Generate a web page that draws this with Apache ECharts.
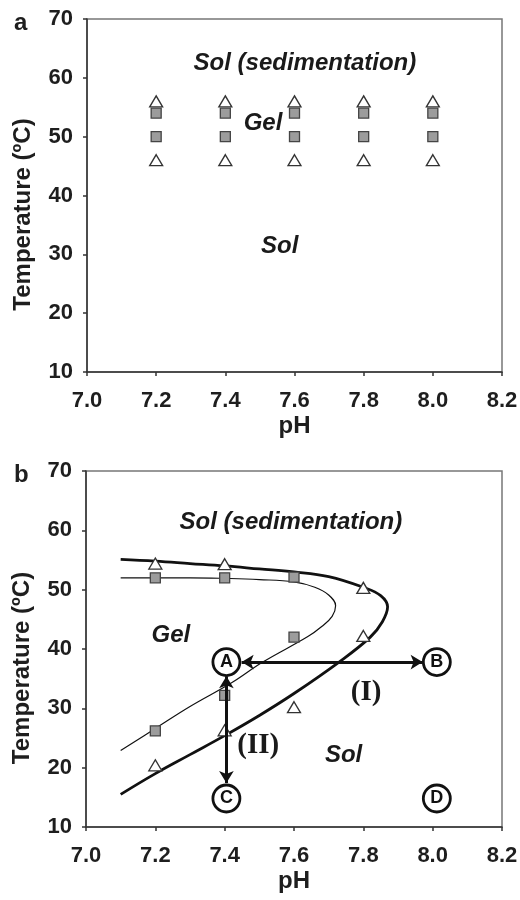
<!DOCTYPE html>
<html>
<head>
<meta charset="utf-8">
<script src="https://cdn.jsdelivr.net/npm/echarts@6/dist/echarts.min.js"></script>
<style>
  html, body { margin: 0; padding: 0; background: #fff; }
  #chart { width: 520px; height: 900px; }
</style>
</head>
<body>
<div id="chart"></div>
<script>
// panel a: pH screening, same set of points at every pH
var aPh = [7.2, 7.4, 7.6, 7.8, 8.0];
var aTriUpper = [56, 56, 56, 56, 56];
var aSqUpper = [54, 54, 54, 54, 54];
var aSqLower = [50, 50, 50, 50, 50];
var aTriLower = [46, 46, 46, 46, 46];

// panel b: measured points
var bTriPh = [7.2, 7.4, 7.8, 7.8, 7.6, 7.4, 7.2];
var bTriT = [54.4, 54.3, 50.3, 42.2, 30.2, 26.3, 20.4];
var bSqPh = [7.2, 7.4, 7.6, 7.6, 7.4, 7.2];
var bSqT = [52.0, 52.0, 52.1, 42.0, 32.2, 26.2];

// panel b: fitted boundaries
var thickPh = [7.10, 7.2, 7.3, 7.4, 7.5, 7.6, 7.7, 7.8, 7.85, 7.87, 7.855, 7.82, 7.73, 7.6, 7.5, 7.4, 7.3, 7.2, 7.10];
var thickT = [55.1, 54.8, 54.4, 54.0, 53.5, 53.0, 52.2, 50.4, 49.0, 47.1, 44.6, 42.0, 37.8, 32.5, 28.8, 25.4, 22.2, 19.0, 15.5];
var thinPh = [7.10, 7.2, 7.3, 7.4, 7.5, 7.6, 7.66, 7.70, 7.72, 7.71, 7.68, 7.64, 7.51, 7.42, 7.3, 7.2, 7.10];
var thinT = [52.0, 52.0, 52.0, 51.9, 51.7, 51.3, 50.4, 49.1, 47.3, 45.5, 43.8, 42.1, 37.8, 34.3, 30.3, 26.6, 22.9];

// panel b: states A-D
var stateNames = ['A', 'B', 'C', 'D'];
var statePh = [7.405, 8.012, 7.405, 8.012];
var stateT = [37.8, 37.8, 14.8, 14.8];

var phMin = 7.0, phMax = 8.2, phStep = 0.2;
var tMin = 10, tMax = 70, tStep = 10;

var SANS = '"Liberation Sans", Arial, sans-serif';
var SERIF = '"Liberation Serif", "Times New Roman", serif';

function zip(xs, ys) {
    var out = [];
    for (var i = 0; i < xs.length; i++) out.push([xs[i], ys[i]]);
    return out;
}

var myChart = echarts.init(document.getElementById('chart'));

function xAxisFor(idx) {
    return {
        gridIndex: idx, type: 'value', min: phMin, max: phMax, interval: phStep,
        name: 'pH', nameLocation: 'middle', nameGap: 42,
        nameTextStyle: { fontFamily: SANS, fontWeight: 'bold', fontSize: 24, color: '#1e1e1e' },
        axisLine: { show: true, lineStyle: { color: '#333', width: 1.5 } },
        axisTick: { show: true, inside: false, length: 4, lineStyle: { color: '#333', width: 1.5 } },
        axisLabel: { margin: 18, fontFamily: SANS, fontWeight: 'bold', fontSize: 22, color: '#1e1e1e',
            formatter: function (v) { return v.toFixed(1); } },
        splitLine: { show: false }
    };
}
function yAxisFor(idx) {
    return {
        gridIndex: idx, type: 'value', min: tMin, max: tMax, interval: tStep,
        name: 'Temperature (\u00baC)', nameLocation: 'middle', nameGap: 52,
        // push the rotated title a bit lower, as in the original
        nameTextStyle: { fontFamily: SANS, fontWeight: 'bold', fontSize: 24, color: '#1e1e1e',
            padding: [0, 38, 0, 0] },
        axisLine: { show: true, lineStyle: { color: '#333', width: 1.5 } },
        axisTick: { show: true, inside: false, length: 4, lineStyle: { color: '#333', width: 1.5 } },
        axisLabel: { margin: 14, fontFamily: SANS, fontWeight: 'bold', fontSize: 22, color: '#1e1e1e' },
        splitLine: { show: false }
    };
}

var triStyle = { color: '#fff', borderColor: '#333', borderWidth: 1.3, opacity: 1 };
var sqStyle = { color: '#9c9c9c', borderColor: '#444', borderWidth: 1.3, opacity: 1 };

function triSeries(idx, data) {
    return { type: 'scatter', xAxisIndex: idx, yAxisIndex: idx, symbol: 'triangle',
        symbolSize: [13, 11], itemStyle: triStyle, data: data, z: 4 };
}
function sqSeries(idx, data) {
    return { type: 'scatter', xAxisIndex: idx, yAxisIndex: idx, symbol: 'rect',
        symbolSize: 10, itemStyle: sqStyle, data: data, z: 4 };
}
// text placed at data coordinates
function textSeries(idx, items, font) {
    return { type: 'scatter', xAxisIndex: idx, yAxisIndex: idx, symbolSize: 1,
        itemStyle: { color: 'transparent', opacity: 1 }, silent: true, z: 6,
        label: { show: true, position: 'inside', formatter: '{b}', color: '#1a1a1a',
            fontFamily: font.family, fontWeight: 'bold', fontStyle: font.style,
            fontSize: font.size },
        data: items };
}

var italic = { family: SANS, style: 'italic', size: 24 };
var roman = { family: SERIF, style: 'normal', size: 29 };

var stateData = [];
for (var i = 0; i < stateNames.length; i++) {
    stateData.push({ name: stateNames[i], value: [statePh[i], stateT[i]] });
}

var option = {
    animation: false,
    backgroundColor: '#fff',
    title: [
        { text: 'a', left: 9, top: 6, textStyle: { fontFamily: SANS, fontWeight: 'bold', fontSize: 24, color: '#1e1e1e' } },
        { text: 'b', left: 9, top: 458, textStyle: { fontFamily: SANS, fontWeight: 'bold', fontSize: 24, color: '#1e1e1e' } }
    ],
    grid: [
        { left: 87, right: 18, top: 19, height: 353, show: true, borderColor: '#777', borderWidth: 1.5, outerBoundsMode: 'none' },
        { left: 86, right: 18, top: 471, height: 356, show: true, borderColor: '#777', borderWidth: 1.5, outerBoundsMode: 'none' }
    ],
    xAxis: [xAxisFor(0), xAxisFor(1)],
    yAxis: [yAxisFor(0), yAxisFor(1)],
    series: [
        // panel a
        triSeries(0, zip(aPh, aTriUpper)),
        sqSeries(0, zip(aPh, aSqUpper)),
        sqSeries(0, zip(aPh, aSqLower)),
        triSeries(0, zip(aPh, aTriLower)),
        textSeries(0, [
            { name: 'Sol (sedimentation)', value: [7.63, 62.5] },
            { name: 'Gel', value: [7.509, 52.2] },
            { name: 'Sol', value: [7.557, 31.4] }
        ], italic),

        // panel b curves
        { type: 'line', xAxisIndex: 1, yAxisIndex: 1, data: zip(thickPh, thickT),
          showSymbol: false, smooth: 0.4, lineStyle: { color: '#111', width: 2.8 }, z: 2 },
        { type: 'line', xAxisIndex: 1, yAxisIndex: 1, data: zip(thinPh, thinT),
          showSymbol: false, smooth: 0.4, lineStyle: { color: '#111', width: 1.2 }, z: 2,
          markLine: {
              silent: true, symbol: ['arrow', 'arrow'], symbolSize: [11, 12],
              label: { show: false },
              lineStyle: { color: '#111', width: 3, type: 'solid' },
              data: [
                  [{ coord: [7.449, 37.8] }, { coord: [7.971, 37.8] }],
                  [{ coord: [7.405, 35.4] }, { coord: [7.405, 17.4] }]
              ]
          } },
        sqSeries(1, zip(bSqPh, bSqT)),
        triSeries(1, zip(bTriPh, bTriT)),
        { type: 'scatter', xAxisIndex: 1, yAxisIndex: 1, symbol: 'circle', symbolSize: 27, z: 5,
          itemStyle: { color: '#fff', borderColor: '#111', borderWidth: 2.8, opacity: 1 },
          label: { show: true, position: 'inside', formatter: '{b}', color: '#111',
              fontFamily: SANS, fontWeight: 'bold', fontSize: 18 },
          data: stateData },
        textSeries(1, [
            { name: 'Sol (sedimentation)', value: [7.591, 61.4] },
            { name: 'Gel', value: [7.245, 42.3] },
            { name: 'Sol', value: [7.743, 22.1] }
        ], italic),
        textSeries(1, [
            { name: '(I)', value: [7.808, 32.65] },
            { name: '(II)', value: [7.497, 23.8] }
        ], roman)
    ]
};

myChart.setOption(option);
</script>
</body>
</html>
